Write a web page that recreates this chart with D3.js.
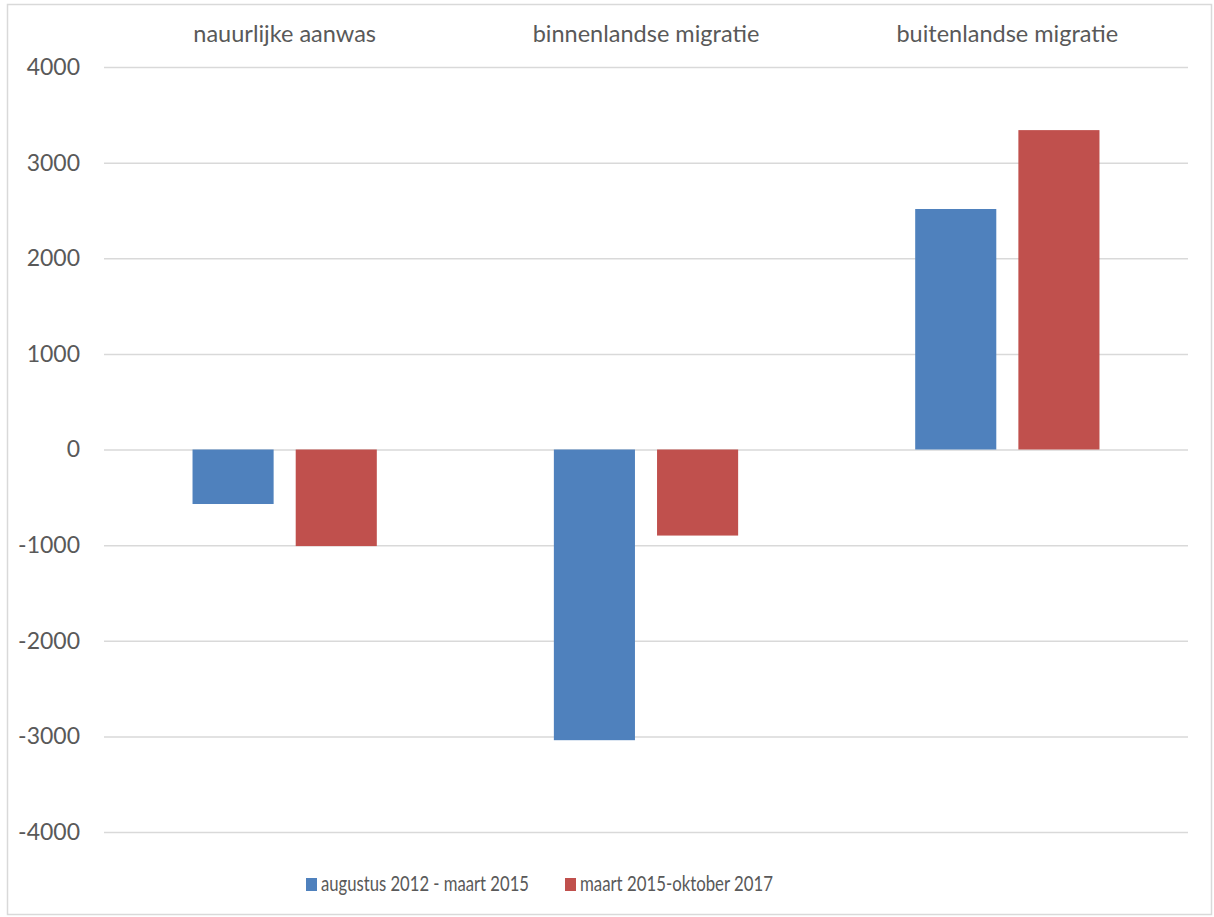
<!DOCTYPE html>
<html><head><meta charset="utf-8">
<script src="https://cdn.jsdelivr.net/npm/d3@7"></script>
<style>body{margin:0;background:#fff}svg{display:block}text{font-family:Lato,"Open Sans",sans-serif;fill:#595959}</style>
</head><body><svg id="c" width="1214" height="917"></svg>
<script>
const categories = ["nauurlijke aanwas", "binnenlandse migratie", "buitenlandse migratie"];
const seriesNames = ["augustus 2012 - maart 2015", "maart 2015-oktober 2017"];
const series1 = [-570, -3040, 2515];
const series2 = [-1010, -900, 3340];
const yTicks = [-4000, -3000, -2000, -1000, 0, 1000, 2000, 3000, 4000];
const colors = ["#4F81BD", "#C0504D"];

(function(){
const svg = d3.select("#c");
svg.append("rect").attr("x",7.5).attr("y",4.5).attr("width",1204).attr("height",910)
  .attr("fill","none").attr("stroke","#d9d9d9").attr("stroke-width",1.5);

const pL=104, pR=1188, pT=67, pB=832;
const y = d3.scaleLinear().domain([-4000,4000]).range([pB, pT]);
const x0 = d3.scaleBand().domain(categories).range([pL,pR]).paddingInner(0.49).paddingOuter(0.245);
const x1 = d3.scaleBand().domain(seriesNames).range([0,x0.bandwidth()]).paddingInner(0.214);

const yAxis = d3.axisLeft(y).tickValues(yTicks).tickSize(-(pR-pL)).tickPadding(24).tickFormat(d=>String(d));
const g = svg.append("g").attr("transform",`translate(${pL},0)`).call(yAxis);
g.select(".domain").remove();
g.selectAll(".tick line").attr("stroke","#d9d9d9").attr("stroke-width",1.5);
g.selectAll(".tick text").style("font-size","23px").style("font-family","Lato, sans-serif").attr("fill","#595959");

const data = categories.map((c,i)=>({cat:c, vals:[series1[i], series2[i]]}));
const grp = svg.append("g").selectAll("g").data(data).join("g")
  .attr("transform",d=>`translate(${x0(d.cat)},0)`);
grp.selectAll("rect").data(d=>d.vals.map((v,j)=>({v, s:seriesNames[j], j}))).join("rect")
  .attr("x",d=>x1(d.s)).attr("width",x1.bandwidth())
  .attr("y",d=>y(Math.max(0,d.v))).attr("height",d=>Math.abs(y(d.v)-y(0)))
  .attr("fill",d=>colors[d.j]);

svg.append("g").selectAll("text").data(categories).join("text")
  .attr("x",d=>x0(d)+x0.bandwidth()/2).attr("y",42)
  .attr("text-anchor","middle").style("font-size","23.5px").text(d=>d);

const legX = [306, 565];
const legLen = [208, 193];
const leg = svg.append("g").selectAll("g").data(seriesNames).join("g")
  .attr("transform",(d,i)=>`translate(${legX[i]},878)`);
leg.append("rect").attr("width",11).attr("height",13).attr("fill",(d,i)=>colors[i]);
leg.append("text").attr("x",15).attr("y",12.5).style("font-size","22px")
  .attr("textLength",(d,i)=>legLen[i]).attr("lengthAdjust","spacingAndGlyphs").text(d=>d);
})();
</script></body></html>
